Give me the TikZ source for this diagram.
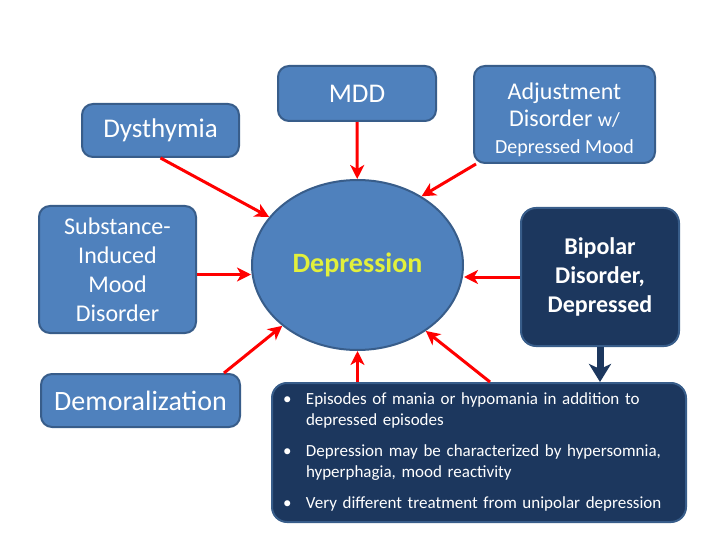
\documentclass[tikz,border=0pt]{standalone}
\usepackage{fontspec}
\setmainfont{Carlito}
\usepackage{xcolor}
\usetikzlibrary{shapes.geometric, arrows, arrows.meta, positioning, calc}
\definecolor{boxblue}{RGB}{79, 129, 189}
\definecolor{edgeblue}{RGB}{56, 93, 138}
\definecolor{navyfill}{RGB}{28, 55, 94}
\definecolor{depyellow}{RGB}{226, 240, 60}
\tikzstyle{disorder} = [rectangle, rounded corners=11pt, draw=edgeblue, line width=2pt, fill=boxblue, text=white, align=center, inner sep=2pt]
\tikzstyle{navybox} = [rectangle, rounded corners=15pt, draw=edgeblue, line width=2pt, fill=navyfill, text=white, inner sep=2pt]
\tikzstyle{core} = [ellipse, draw=edgeblue, line width=2pt, fill=boxblue, text=depyellow, inner sep=0pt]
\tikzstyle{arrow} = [line width=3pt, red, -{Stealth[length=14pt, width=14pt, inset=4pt]}]
\tikzstyle{navyarrow} = [line width=7pt, navyfill, -{Stealth[length=18pt, width=22pt, inset=5pt]}]

\begin{document}
\begin{tikzpicture}[x=1pt, y=-1pt]
\useasboundingbox (0,0) rectangle (720,540);

% Central node
\node (depression) [core, minimum width=211pt, minimum height=170pt, font=\fontsize{28}{32}\selectfont\bfseries] at (357.5,265) {Depression};

% Related disorders
\node (mdd) [disorder, minimum width=158pt, minimum height=55pt, font=\fontsize{27}{30}\selectfont] at (357,93.5) {MDD};
\node (dysthymia) [disorder, minimum width=157pt, minimum height=53pt, font=\fontsize{27}{30}\selectfont] at (160.5,130.5) {Dysthymia};
\node (adjust) [disorder, minimum width=181pt, minimum height=97pt, font=\fontsize{24}{27}\selectfont] at (564.5,114.5) {Adjustment\rule{0pt}{28pt}\\Disorder {\fontsize{20}{27}\selectfont w/}\\{\fontsize{20}{27}\selectfont Depressed Mood}};
\node (substance) [disorder, minimum width=157pt, minimum height=127pt, font=\fontsize{24}{29}\selectfont] at (117.5,269.5) {Substance-\\Induced\\Mood\\Disorder};
\node (demoral) [disorder, minimum width=199pt, minimum height=53pt, font=\fontsize{28}{30}\selectfont] at (140.5,400.5) {Demoralization};

% Bipolar branch
\node (bipolar) [navybox, minimum width=158pt, minimum height=138pt, align=center, font=\fontsize{24}{29}\selectfont\bfseries] at (600,277) {Bipolar\\Disorder,\\Depressed};
\node (bullets) [navybox, minimum width=414pt, minimum height=139pt, text width=392pt, align=left, font=\fontsize{17}{20.5}\selectfont] at (479,452.5) {%
\begin{tabular}{@{}p{23pt}@{}l@{}}
\textbullet & Episodes of mania or hypomania in addition to\\
 & depressed episodes\\[11pt]
\textbullet & Depression may be characterized by hypersomnia,\\
 & hyperphagia, mood reactivity\\[11pt]
\textbullet & Very different treatment from unipolar depression
\end{tabular}};

% Arrows
\draw [arrow] (mdd) -- (depression);
\draw [arrow] (dysthymia.south) -- (depression);
\draw [arrow] ([xshift=3pt]adjust.south west) -- (depression.47);
\draw [arrow] ([yshift=-5pt]substance.east) -- ($(substance.east -| depression.west)+(0,5)$);
\draw [arrow] (bipolar.west) -- (bipolar.west -| depression.east);
\draw [arrow] ([xshift=-17pt]demoral.north east) -- (depression);
\draw [arrow] (depression.south |- bullets.north) -- (depression.south);
\draw [arrow] ([xshift=11pt]bullets.north) -- (depression.-44);
\draw [navyarrow] (bipolar.south) -- (bipolar.south |- bullets.north);

\end{tikzpicture}
\end{document}
